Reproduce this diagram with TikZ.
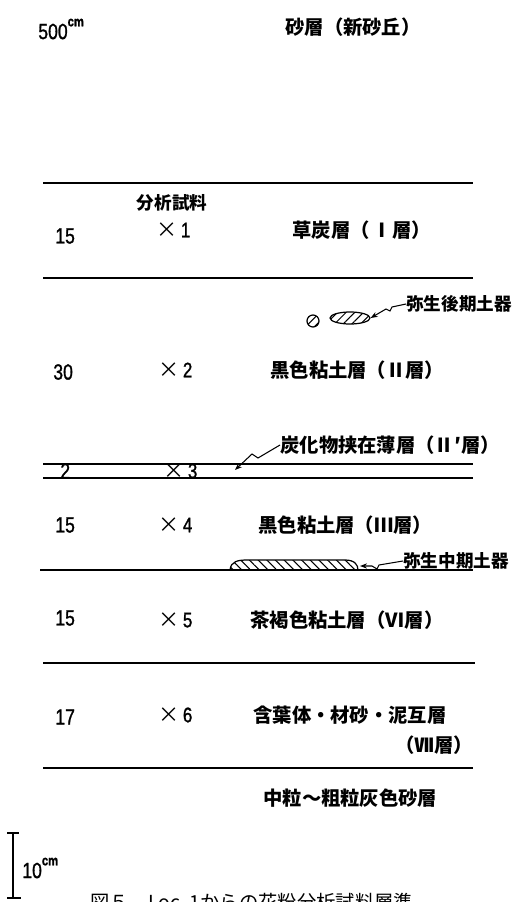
\documentclass[tikz,border=0pt]{standalone}
\usepackage{fontspec}
\setmainfont{Liberation Sans}
\newfontfamily\numfont{Liberation Sans}[FakeStretch=0.8, FakeBold=1.2]
\newfontfamily\cjk{Noto Sans CJK JP}
\usepackage{tikz}
\usetikzlibrary{shapes.geometric, arrows.meta, patterns.meta}
\tikzstyle{depth} = [anchor=west, inner sep=0pt, font=\numfont\fontsize{12.5}{14}\selectfont]
\tikzstyle{sample} = [anchor=west, inner sep=0pt, font=\numfont\fontsize{12}{14}\selectfont]
\tikzstyle{layer} = [anchor=west, inner sep=0pt, font=\cjk\bfseries\fontsize{11}{13}\selectfont]
\tikzstyle{note} = [anchor=west, inner sep=0pt, font=\cjk\bfseries\fontsize{10}{12}\selectfont]
\tikzstyle{boundary} = [line width=0.8pt]
\tikzstyle{leader} = [line width=0.6pt, -{Stealth[length=4pt, width=3pt]}]
\tikzstyle{sherd} = [draw, line width=0.7pt, inner sep=0pt, pattern={Lines[angle=45, distance=3.5pt, line width=0.6pt]}]
\newcommand{\cross}{{\cjk ×}\,}
\newcommand{\unitcm}{\raisebox{1.1ex}{\bfseries\fontsize{8}{8}\selectfont cm}}

\begin{document}
\begin{tikzpicture}[x=0.02cm, y=-0.02cm]
    \useasboundingbox (0,0) rectangle (514,902);

    % dune sand on top
    \node (top_depth) [depth] at (38,29) {500\unitcm};

    \node (dune_sand) [layer] at (285,27) {砂層（新砂丘）};

    % layer boundaries
    \draw [boundary] (43,183) -- (473,183);

    \draw [boundary] (43,278) -- (473,278);

    \draw [boundary] (43,464) -- (473,464);

    \draw [boundary] (43,478) -- (473,478);

    \draw [boundary] (40,570) -- (473,570);

    \draw [boundary] (43,663) -- (475,663);

    \draw [boundary] (43,768) -- (473,768);

    % I
    \node (sample_head) [note, anchor=center] at (172,203) {分析試料};

    \node (peat_depth) [depth] at (55,236) {15};

    \node (peat_sample) [sample] at (156,230) {\cross 1};

    \node (peat) [layer] at (292,230) {草炭層（\,Ⅰ層）};

    % II with late Yayoi sherds
    \node (late_chip) [sherd, circle, minimum size=0.24cm] at (313,321) {};

    \node (late_sherd) [sherd, ellipse, minimum width=0.8cm, minimum height=0.24cm] at (350,318) {};

    \node (late_pottery) [note] at (406,304) {弥生後期土器};

    \draw [leader] (late_pottery.west) -- ++(-14,3) -- ++(-2,4) -- ++(-4,-2) -- (late_sherd.east);

    \node (clay2_depth) [depth] at (53,372) {30};

    \node (clay2_sample) [sample] at (158,370) {\cross 2};

    \node (clay2) [layer] at (270,370) {黒色粘土層（Ⅱ層）};

    % II' thin band
    \node (char_band) [layer] at (280,445) {炭化物挟在薄層（Ⅱ′層）};

    \coordinate (char_tip) at (235,470);

    \draw [leader] (char_band.west) -- ++(-22,13) -- ++(-6,-4) -- (char_tip);

    \node (band_depth) [depth] at (60,471) {2};

    \node (band_sample) [sample] at (163,471) {\cross 3};

    % III with middle Yayoi sherd
    \node (clay3_depth) [depth] at (55,525) {15};

    \node (clay3_sample) [sample] at (158,525) {\cross 4};

    \node (clay3) [layer] at (258,525) {黒色粘土層（Ⅲ層）};

    \draw [sherd, pattern={Lines[angle=-45, distance=3.5pt, line width=0.6pt]}] (230,570) .. controls (231,561) and (238,560) .. (248,560) -- (345,560) .. controls (355,560) and (358,565) .. (358,570);

    \coordinate (mid_sherd) at (360,566);

    \node (mid_pottery) [note] at (403,561) {弥生中期土器};

    \draw [leader] (mid_pottery.west) -- ++(-24,4) -- ++(-2,4) -- ++(-5,-3) -- (mid_sherd);

    % VI
    \node (brown_depth) [depth] at (55,618) {15};

    \node (brown_sample) [sample] at (158,620) {\cross 5};

    \node (brown) [layer] at (250,620) {茶褐色粘土層（Ⅵ層）};

    % VII
    \node (alt_depth) [depth] at (55,717) {17};

    \node (alt_sample) [sample] at (158,715) {\cross 6};

    \node (alt) [layer] at (253,715) {含葉体・材砂・泥互層};

    \node (alt_no) [layer] at (395,745) {（Ⅶ層）};

    % base sand
    \node (base_sand) [layer] at (263,798) {中粒～粗粒灰色砂層};

    % 10 cm scale
    \draw [boundary] (13,833) -- (13,898);

    \draw [boundary] (7,833) -- (19,833);

    \draw [boundary] (7,898) -- (21,898);

    \node (scale_label) [depth] at (22,868) {10\unitcm};

    \node (caption) [anchor=base west, inner sep=0pt, font=\cjk\fontsize{11}{13}\selectfont] at (90,909) {図５\quad Loc.~1からの花粉分析試料層準};

\end{tikzpicture}
\end{document}
